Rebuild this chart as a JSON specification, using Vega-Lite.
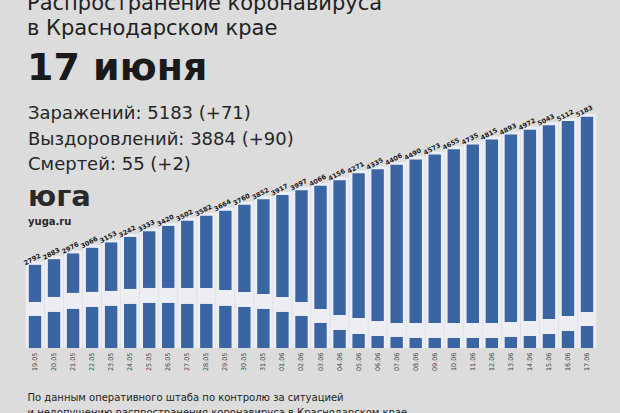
{
  "$schema": "https://vega.github.io/schema/vega-lite/v6.json",
  "autosize": "none",
  "width": 584,
  "height": 251,
  "padding": {"left": 19, "top": 97, "right": 17, "bottom": 65},
  "background": "#dcdcdc",
  "config": {"view": {"stroke": null}, "font": "DejaVu Sans"},
  "title": {
    "text": ["Распространение коронавируса", "в Краснодарском крае"],
    "subtitle": "17 июня",
    "anchor": "start",
    "dx": 8,
    "offset": 9,
    "fontSize": 21,
    "fontWeight": "normal",
    "lineHeight": 25,
    "color": "#222222",
    "subtitleFontSize": 38,
    "subtitleFontWeight": "bold",
    "subtitleColor": "#1a1a1a",
    "subtitlePadding": 11
  },
  "data": {
    "values": [
      {"date": "19.05", "value": 2792, "gap_hi": 2193, "gap_lo": 1967},
      {"date": "20.05", "value": 2883, "gap_hi": 2274, "gap_lo": 2032},
      {"date": "21.05", "value": 2976, "gap_hi": 2339, "gap_lo": 2080},
      {"date": "22.05", "value": 3066, "gap_hi": 2355, "gap_lo": 2112},
      {"date": "23.05", "value": 3153, "gap_hi": 2371, "gap_lo": 2129},
      {"date": "24.05", "value": 3242, "gap_hi": 2403, "gap_lo": 2161},
      {"date": "25.05", "value": 3333, "gap_hi": 2419, "gap_lo": 2177},
      {"date": "26.05", "value": 3420, "gap_hi": 2419, "gap_lo": 2177},
      {"date": "27.05", "value": 3502, "gap_hi": 2419, "gap_lo": 2161},
      {"date": "28.05", "value": 3582, "gap_hi": 2419, "gap_lo": 2161},
      {"date": "29.05", "value": 3664, "gap_hi": 2387, "gap_lo": 2129},
      {"date": "30.05", "value": 3760, "gap_hi": 2355, "gap_lo": 2112},
      {"date": "31.05", "value": 3852, "gap_hi": 2322, "gap_lo": 2080},
      {"date": "01.06", "value": 3917, "gap_hi": 2274, "gap_lo": 2032},
      {"date": "02.06", "value": 3997, "gap_hi": 2193, "gap_lo": 1967},
      {"date": "03.06", "value": 4066, "gap_hi": 2080, "gap_lo": 1854},
      {"date": "04.06", "value": 4156, "gap_hi": 1983, "gap_lo": 1741},
      {"date": "05.06", "value": 4271, "gap_hi": 1935, "gap_lo": 1676},
      {"date": "06.06", "value": 4335, "gap_hi": 1886, "gap_lo": 1644},
      {"date": "07.06", "value": 4406, "gap_hi": 1854, "gap_lo": 1628},
      {"date": "08.06", "value": 4490, "gap_hi": 1854, "gap_lo": 1612},
      {"date": "09.06", "value": 4573, "gap_hi": 1854, "gap_lo": 1612},
      {"date": "10.06", "value": 4655, "gap_hi": 1854, "gap_lo": 1612},
      {"date": "11.06", "value": 4735, "gap_hi": 1854, "gap_lo": 1612},
      {"date": "12.06", "value": 4815, "gap_hi": 1854, "gap_lo": 1612},
      {"date": "13.06", "value": 4893, "gap_hi": 1870, "gap_lo": 1628},
      {"date": "14.06", "value": 4972, "gap_hi": 1886, "gap_lo": 1644},
      {"date": "15.06", "value": 5043, "gap_hi": 1918, "gap_lo": 1676},
      {"date": "16.06", "value": 5112, "gap_hi": 1967, "gap_lo": 1725},
      {"date": "17.06", "value": 5183, "gap_hi": 2032, "gap_lo": 1805}
    ]
  },
  "encoding": {
    "x": {
      "field": "date",
      "type": "ordinal",
      "sort": null,
      "scale": {"type": "band", "paddingInner": 0.35, "paddingOuter": 0.515},
      "axis": {
        "domain": false,
        "ticks": false,
        "labelAngle": -90,
        "labelFontSize": 6.5,
        "labelColor": "#444444",
        "labelPadding": 4,
        "title": ["По данным оперативного штаба по контролю за ситуацией", "и недопущению распространения коронавируса в Краснодарском крае"],
        "titleFontSize": 10,
        "titleFontWeight": "normal",
        "titleColor": "#1e1e1e",
        "titleAnchor": "start",
        "titleAlign": "left",
        "titleX": 8,
        "titlePadding": 22,
        "titleLineHeight": 15
      }
    }
  },
  "layer": [
    {
      "mark": {"type": "bar", "color": "#eceef4", "stroke": "#eceef4", "strokeWidth": 6, "clip": true},
      "encoding": {
        "y": {"field": "value", "type": "quantitative", "scale": {"domain": [1450, 5500], "nice": false, "zero": false}, "axis": null},
        "y2": {"datum": 1450}
      }
    },
    {
      "mark": {"type": "bar", "color": "#3b64a3"},
      "encoding": {
        "y": {"field": "value", "type": "quantitative"},
        "y2": {"field": "gap_hi"}
      }
    },
    {
      "mark": {"type": "bar", "color": "#3b64a3"},
      "encoding": {
        "y": {"field": "gap_lo", "type": "quantitative"},
        "y2": {"datum": 1450}
      }
    },
    {
      "mark": {"type": "text", "angle": -28, "align": "left", "baseline": "alphabetic", "dx": -9, "dy": -4, "fontSize": 6.5, "fontWeight": "bold", "color": "#1a1a1a"},
      "encoding": {
        "y": {"field": "value", "type": "quantitative"},
        "text": {"field": "value", "type": "quantitative", "format": "d"}
      }
    },
    {
      "data": {"values": [{}]},
      "mark": {"type": "text", "text": "Заражений: 5183 (+71)", "align": "left", "baseline": "alphabetic", "dx": -7, "fontSize": 18, "color": "#262626"},
      "encoding": {"x": {"datum": "19.05"}, "y": {"datum": 5150}}
    },
    {
      "data": {"values": [{}]},
      "mark": {"type": "text", "text": "Выздоровлений: 3884 (+90)", "align": "left", "baseline": "alphabetic", "dx": -7, "fontSize": 18, "color": "#262626"},
      "encoding": {"x": {"datum": "19.05"}, "y": {"datum": 4729}}
    },
    {
      "data": {"values": [{}]},
      "mark": {"type": "text", "text": "Смертей: 55 (+2)", "align": "left", "baseline": "alphabetic", "dx": -7, "fontSize": 18, "color": "#262626"},
      "encoding": {"x": {"datum": "19.05"}, "y": {"datum": 4326}}
    },
    {
      "data": {"values": [{}]},
      "mark": {"type": "text", "text": "юга", "align": "left", "baseline": "alphabetic", "dx": -7, "fontSize": 29, "fontWeight": "bold", "color": "#2a2a2a"},
      "encoding": {"x": {"datum": "19.05"}, "y": {"datum": 3745}}
    },
    {
      "data": {"values": [{}]},
      "mark": {"type": "text", "text": "yuga.ru", "align": "left", "baseline": "alphabetic", "dx": -7, "fontSize": 10, "fontWeight": "bold", "color": "#2a2a2a"},
      "encoding": {"x": {"datum": "19.05"}, "y": {"datum": 3437}}
    }
  ]
}
